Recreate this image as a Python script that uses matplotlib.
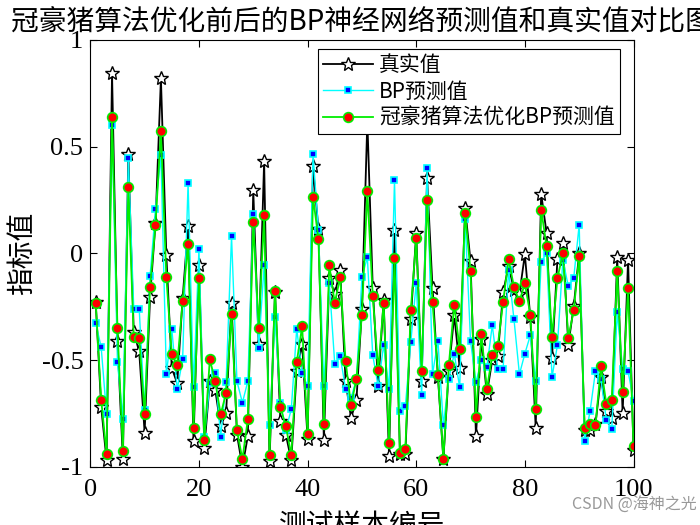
import matplotlib
matplotlib.use('Agg')
import matplotlib.pyplot as plt
import numpy as np

plt.rcParams['font.family'] = ['Noto Sans CJK SC', 'DejaVu Sans']
plt.rcParams['axes.unicode_minus'] = False

# 真实值
true_vals = [-0.23, -0.72, -0.97, 0.844, -0.41, -0.965, 0.464, -0.37, -0.46, -0.84,
             -0.206, 0.14, 0.82, -0.01, -0.537, -0.61, -0.21, 0.126, -0.88, -0.053,
             -0.91, -0.6, -0.64, -0.81, -0.748, -0.233, -0.85, -1.0, -0.857, 0.295,
             -0.427, 0.431, -0.974, -0.18, -0.787, -0.85, -0.97, -0.553, -0.425, -0.87,
             0.407, 0.112, -0.876, -0.115, -0.19, -0.08, -0.6, -0.773, -0.685, -0.262,
             0.62, -0.162, -0.62, -0.22, -0.95, 0.108, -0.94, -0.94, -0.31, 0.095,
             -0.6, 0.353, -0.162, -0.58, -0.965, -0.55, -0.29, -0.537, 0.212, -0.037,
             -0.857, -0.4, -0.66, -0.5, -0.48, -0.183, -0.06, -0.17, -0.19, -0.005,
             -0.30, -0.818, 0.28, 0.095, -0.49, -0.027, 0.05, -0.43, -0.248, 0.0,
             -0.83, -0.83, -0.8, -0.58, -0.74, -0.77, -0.019, -0.75, -0.03, -0.92]
# BP预测值
bp_vals = [-0.326, -0.44, -0.755, 0.60, -0.51, -0.776, 0.445, -0.26, -0.26, -0.735,
           -0.108, 0.206, 0.459, -0.565, -0.354, -0.637, -0.497, 0.33, -0.628, 0.018,
           -0.86, -0.61, -0.56, -0.86, -0.604, 0.08, -0.6, -0.70, -0.6, 0.183,
           -0.443, -0.056, -0.806, -0.30, -0.70, -0.83, -0.73, -0.354, -0.56, -0.623,
           0.465, 0.11, -0.623, -0.139, -0.518, -0.482, -0.636, -0.678, -0.59, -0.112,
           -0.019, -0.478, -0.623, -0.43, -0.636, 0.342, -0.74, -0.717, -0.417, -0.139,
           -0.665, 0.40, -0.565, -0.412, -0.806, -0.588, -0.47, -0.628, 0.16, -0.412,
           -0.604, -0.502, -0.534, -0.337, -0.54, -0.54, -0.08, -0.31, -0.567, -0.47,
           -0.385, -0.6, -0.04, 0.0, -0.58, -0.43, -0.03, -0.155, -0.115, 0.134,
           -0.88, -0.74, -0.553, -0.59, -0.78, -0.823, -0.276, -0.54, -0.553, -0.69]
# 冠豪猪算法优化BP预测值
opt_vals = [-0.233, -0.685, -0.94, 0.637, -0.35, -0.927, 0.309, -0.393, -0.397, -0.755,
            -0.159, 0.135, 0.571, -0.112, -0.474, -0.525, -0.225, 0.042, -0.82, -0.115,
            -0.876, -0.497, -0.60, -0.755, -0.654, -0.286, -0.83, -0.965, -0.778, 0.147,
            -0.35, 0.178, -0.946, -0.175, -0.72, -0.81, -0.946, -0.51, -0.342, -0.848,
            0.264, 0.067, -0.80, -0.056, -0.233, -0.112, -0.506, -0.712, -0.588, -0.287,
            0.29, -0.2, -0.548, -0.233, -0.89, -0.024, -0.935, -0.918, -0.267, 0.07,
            -0.553, 0.252, -0.228, -0.571, -0.963, -0.525, -0.24, -0.45, 0.189, -0.084,
            -0.766, -0.378, -0.637, -0.478, -0.436, -0.228, -0.028, -0.158, -0.225, -0.141,
            -0.287, -0.73, 0.205, 0.033, -0.39, -0.117, 0.001, -0.397, -0.267, -0.014,
            -0.818, -0.80, -0.806, -0.53, -0.706, -0.685, -0.084, -0.65, -0.162, -0.904]

x = np.arange(1, len(true_vals) + 1)

fig = plt.figure(figsize=(7, 5.25), dpi=100)
ax = fig.add_axes([0.129, 0.111, 0.776, 0.813])

ax.plot(x, true_vals, '-*', color='black', lw=1.3, ms=10, mfc='white', mec='black',
        mew=1.0, label='真实值')
ax.plot(x, bp_vals, '-s', color='cyan', lw=1.0, ms=5, mfc='blue', mec='cyan',
        mew=1.2, label='BP预测值')
ax.plot(x, opt_vals, '-o', color='#00ee00', lw=1.3, ms=7, mfc='red', mec='#00ee00',
        mew=1.2, label='冠豪猪算法优化BP预测值')

ax.set_xlim(0, 100)
ax.set_ylim(-1, 1)
ax.set_xticks([0, 20, 40, 60, 80, 100])
ax.set_yticks([-1, -0.5, 0, 0.5, 1])
ax.set_yticklabels(['-1', '-0.5', '0', '0.5', '1'])
ax.tick_params(direction='in', top=True, right=True, length=5, width=0.8)
ax.tick_params(axis='x', pad=9)
ax.tick_params(axis='y', pad=5)
for lab in ax.get_xticklabels() + ax.get_yticklabels():
    lab.set_fontfamily('Liberation Serif')
    lab.set_fontsize(19)

ax.set_title('冠豪猪算法优化前后的BP神经网络预测值和真实值对比图', fontsize=20, pad=7)
ax.set_xlabel('测试样本编号', fontsize=20, labelpad=7)
ax.set_ylabel('指标值', fontsize=20)
ax.yaxis.set_label_coords(-0.098, 0.5)

leg = ax.legend(loc='upper right', bbox_to_anchor=(0.975, 0.978), fontsize=15,
                fancybox=False, edgecolor='black', framealpha=1, handlelength=2.4,
                borderpad=0.25, labelspacing=0.2, handletextpad=0.3, borderaxespad=0)
leg.get_frame().set_linewidth(0.8)

fig.text(0.996, 0.022, 'CSDN @海神之光', ha='right', va='bottom', fontsize=11.5,
         color='#999999')

fig.savefig('out.png', dpi=100)
